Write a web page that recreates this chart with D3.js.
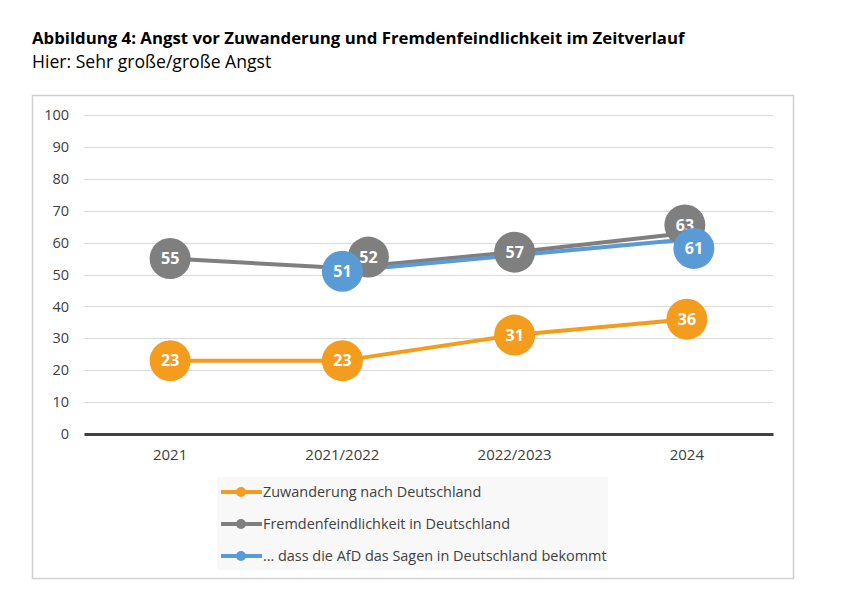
<!DOCTYPE html>
<html>
<head>
<meta charset="utf-8">
<script src="https://cdn.jsdelivr.net/npm/d3@7"></script>
<style>
	body { margin: 0; background: #fff; }
	svg { display: block; }
</style>
</head>
<body>
<svg id="chart" width="841" height="595"></svg>
<script>
// data
var categories = ['2021', '2021/2022', '2022/2023', '2024'];
var seriesNames = ['Zuwanderung nach Deutschland', 'Fremdenfeindlichkeit in Deutschland', '\u2026 dass die AfD das Sagen in Deutschland bekommt'];
var zuwanderung = [23, 23, 31, 36];
var fremdenfeindlichkeit = [55, 52, 57, 63];
var afd = [null, 51, 56, 61];
var yTicks = [0, 10, 20, 30, 40, 50, 60, 70, 80, 90, 100];

var colors = ['#F39C1E', '#7F7F7F', '#5B9BD5'];
var series = [zuwanderung, fremdenfeindlichkeit, afd];

// label bubbles that were moved apart by hand in the original (series, index -> dx, dy)
var nudges = { '1-1': [26, -11], '1-3': [-2, -8], '2-3': [7, 9] };
var hiddenLabels = { '2-2': true };

var svg = d3.select('#chart');
var font = '"Open Sans", sans-serif';

svg.append('text')
	.attr('x', 32).attr('y', 44)
	.attr('font-family', font)
	.attr('font-weight', 'bold')
	.attr('font-size', 16.8)
	.attr('fill', '#000')
	.text('Abbildung 4: Angst vor Zuwanderung und Fremdenfeindlichkeit im Zeitverlauf');
svg.append('text')
	.attr('x', 32).attr('y', 68)
	.attr('font-family', font)
	.attr('font-size', 17.6)
	.attr('fill', '#000')
	.text('Hier: Sehr gro\u00dfe/gro\u00dfe Angst');

// chart frame
svg.append('rect')
	.attr('x', 32.5).attr('y', 95.5)
	.attr('width', 761).attr('height', 483)
	.attr('fill', '#fff')
	.attr('stroke', '#d0d0d0')
	.attr('stroke-width', 1.5);

var plot = { left: 84, right: 773, top: 115, bottom: 434 };

var xScale = d3.scaleBand()
	.domain(categories)
	.range([plot.left, plot.right]);
var yScale = d3.scaleLinear()
	.domain([0, 100])
	.range([plot.bottom, plot.top]);

var xc = function(i) { return xScale(categories[i]) + xScale.bandwidth() / 2; };

// grid
svg.append('g').selectAll('line')
	.data(yTicks.filter(function(d) { return d > 0; }))
	.enter().append('line')
	.attr('x1', plot.left).attr('x2', plot.right)
	.attr('y1', function(d) { return Math.round(yScale(d)) + 0.5; })
	.attr('y2', function(d) { return Math.round(yScale(d)) + 0.5; })
	.attr('stroke', '#d9d9d9')
	.attr('stroke-width', 1);

// y axis labels
var yAxis = svg.append('g')
	.attr('transform', 'translate(' + (plot.left - 15) + ',0)')
	.call(d3.axisLeft(yScale).tickValues(yTicks).tickSize(0).tickPadding(0));
yAxis.select('.domain').remove();
yAxis.selectAll('text')
	.attr('font-family', font)
	.attr('font-size', 14.5)
	.attr('fill', '#404040');

// x axis
var xAxis = svg.append('g')
	.attr('transform', 'translate(0,' + plot.bottom + ')')
	.call(d3.axisBottom(xScale).tickSize(0).tickPadding(15));
xAxis.select('.domain')
	.attr('stroke', '#404040')
	.attr('stroke-width', 3);
xAxis.selectAll('text')
	.attr('font-family', font)
	.attr('font-size', 15)
	.attr('fill', '#404040');

// lines
var line = d3.line()
	.defined(function(d) { return d != null; })
	.x(function(d, i) { return xc(i); })
	.y(function(d) { return yScale(d); });

series.forEach(function(values, s) {
	svg.append('path')
		.datum(values)
		.attr('d', line)
		.attr('fill', 'none')
		.attr('stroke', colors[s])
		.attr('stroke-width', 4)
		.attr('stroke-linejoin', 'round');
});

// bubbles with values
series.forEach(function(values, s) {
	var pts = values.map(function(v, i) { return { v: v, i: i, key: s + '-' + i }; })
		.filter(function(d) { return d.v != null && !hiddenLabels[d.key]; });
	var g = svg.append('g').selectAll('g')
		.data(pts)
		.enter().append('g')
		.attr('transform', function(d) {
			var n = nudges[d.key] || [0, 0];
			return 'translate(' + (xc(d.i) + n[0]) + ',' + (yScale(d.v) + n[1]) + ')';
		});
	g.append('circle')
		.attr('r', 20.5)
		.attr('fill', colors[s]);
	g.append('text')
		.attr('text-anchor', 'middle')
		.attr('dy', '0.36em')
		.attr('font-family', font)
		.attr('font-weight', 'bold')
		.attr('font-size', 16)
		.attr('fill', '#fff')
		.text(function(d) { return d.v; });
});

// legend
var legend = svg.append('g');
legend.append('rect')
	.attr('x', 217).attr('y', 477)
	.attr('width', 391).attr('height', 93)
	.attr('fill', '#f8f8f8');
var item = legend.selectAll('g')
	.data(seriesNames)
	.enter().append('g')
	.attr('transform', function(d, i) { return 'translate(221,' + (492 + i * 32) + ')'; });
item.append('line')
	.attr('x1', 0).attr('x2', 41)
	.attr('stroke', function(d, i) { return colors[i]; })
	.attr('stroke-width', 4);
item.append('circle')
	.attr('cx', 20).attr('r', 5)
	.attr('fill', function(d, i) { return colors[i]; });
item.append('text')
	.attr('x', 42)
	.attr('dy', '0.35em')
	.attr('font-family', font)
	.attr('font-size', 14.45)
	.attr('fill', '#404040')
	.text(function(d) { return d; });
</script>
</body>
</html>
